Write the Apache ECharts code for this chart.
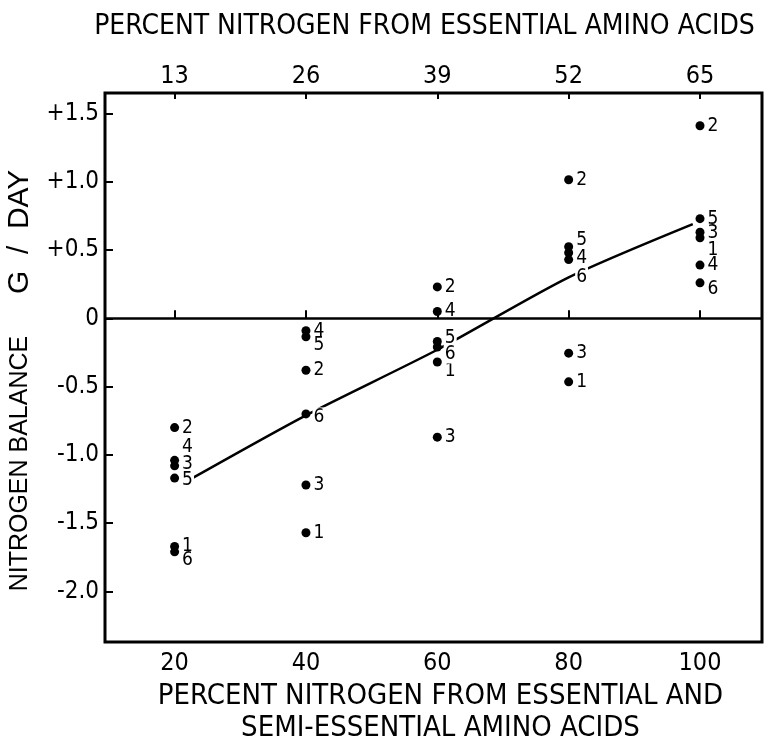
<!DOCTYPE html>
<html>
<head>
<meta charset="utf-8">
<script src="https://cdn.jsdelivr.net/npm/echarts@6/dist/echarts.min.js"></script>
<style>
html,body{margin:0;padding:0;background:#fff;}
#chart{width:771px;height:742px;}
</style>
</head>
<body>
<div id="chart"></div>
<script>
// ---- data ----
const xValues = [20, 40, 60, 80, 100];            // % N from essential + semi-essential AA
const topTickLabels = ['13', '26', '39', '52', '65']; // % N from essential AA
const yTicks = [-2.0, -1.5, -1.0, -0.5, 0, 0.5, 1.0, 1.5];
const subjects = ['1', '2', '3', '4', '5', '6'];
const subject1 = [-1.67, -1.57, -0.32, -0.465, 0.59];
const subject2 = [-0.80, -0.38, 0.23, 1.015, 1.41];
const subject3 = [-1.08, -1.22, -0.87, -0.255, 0.63];
const subject4 = [-1.04, -0.09, 0.05, 0.48, 0.39];
const subject5 = [-1.17, -0.135, -0.17, 0.525, 0.73];
const subject6 = [-1.71, -0.70, -0.21, 0.43, 0.26];
const fitX = [22.7, 40, 60, 80, 98.9];
const fitY = [-1.17, -0.71, -0.23, 0.30, 0.69];

// ---- style only: label vertical nudges (px) and white backing ----
const labelDy = [
  [0, 0, 9, 0, 12],
  [0, 0, 0, 0, 0],
  [-2, 0, 0, 0, 1],
  [-13, 0, 0, 5, 0],
  [2, 8, -3, -7, 0],
  [8, 3, 7, 17, 6]
];
const labelBg = [
  [0,0,0,0,0],[0,0,0,0,0],[0,0,0,0,0],[0,0,0,0,0],[1,0,1,0,0],[0,1,1,1,0]
];

const allSeries = [subject1, subject2, subject3, subject4, subject5, subject6];
const FONT = '"Liberation Sans Narrow", "DejaVu Sans Condensed", "Liberation Sans", sans-serif';
const INK = '#000';
const XMIN = 9.4, XMAX = 109.44, YMIN = -2.37, YMAX = 1.65;

const chart = echarts.init(document.getElementById('chart'), null, {renderer: 'canvas'});

const series = allSeries.map((vals, si) => ({
  type: 'scatter',
  name: 'Subject ' + subjects[si],
  xAxisIndex: 0, yAxisIndex: 0,
  symbol: 'circle',
  symbolSize: 9,
  z: 4,
  itemStyle: {color: INK, opacity: 1},
  label: {
    show: true, position: 'right', distance: 2,
    formatter: subjects[si],
    color: INK, fontFamily: FONT, fontSize: 19
  },
  data: vals.map((v, i) => ({
    value: [xValues[i], v],
    label: {
      offset: [0, labelDy[si][i]],
      backgroundColor: labelBg[si][i] ? '#fff' : 'transparent',
      padding: [0, 1, 0, 1]
    }
  }))
}));

series.push({
  type: 'line',
  name: 'fit',
  data: fitX.map((x, i) => [x, fitY[i]]),
  symbol: 'none',
  smooth: 0.25,
  z: 2,
  lineStyle: {color: INK, width: 2.5},
  markLine: {
    silent: true, symbol: 'none', label: {show: false},
    lineStyle: {color: INK, width: 2.5, type: 'solid'},
    data: [{yAxis: 0}]
  }
});

const option = {
  backgroundColor: '#fff',
  animation: false,
  grid: {left: 105, right: 9, top: 93, bottom: 100, show: true, borderColor: INK, borderWidth: 3,
         containLabel: false, outerBoundsMode: 'none'},
  xAxis: [
    {
      type: 'value', position: 'bottom', min: XMIN, max: XMAX,
      name: 'PERCENT NITROGEN FROM ESSENTIAL AND\nSEMI-ESSENTIAL AMINO ACIDS',
      nameLocation: 'middle', nameGap: 37,
      nameTextStyle: {color: INK, fontFamily: FONT, fontSize: 29, lineHeight: 32, verticalAlign: 'top', padding: [0, 0, 0, 14]},
      axisLine: {show: false},
      axisTick: {show: true, inside: true, length: 8, customValues: xValues, lineStyle: {color: INK, width: 2}},
      axisLabel: {customValues: xValues, color: INK, fontFamily: FONT, fontSize: 25, margin: 9},
      splitLine: {show: false}
    },
    {
      type: 'value', position: 'top', min: XMIN, max: XMAX,
      name: 'PERCENT NITROGEN FROM ESSENTIAL AMINO ACIDS',
      nameLocation: 'middle', nameGap: 52,
      nameTextStyle: {color: INK, fontFamily: FONT, fontSize: 28, padding: [0, 18, 0, 0]},
      axisLine: {show: false},
      axisTick: {show: true, inside: true, length: 6, customValues: xValues, lineStyle: {color: INK, width: 2}},
      axisLabel: {
        customValues: xValues, color: INK, fontFamily: FONT, fontSize: 25, margin: 4,
        formatter: v => topTickLabels[xValues.indexOf(v)]
      },
      splitLine: {show: false}
    }
  ],
  yAxis: [{
    type: 'value', min: YMIN, max: YMAX,
    name: '{a|NITROGEN BALANCE}      {b|G  /  DAY}',
    nameLocation: 'middle', nameGap: 70, nameRotate: 90,
    nameTextStyle: {
      color: INK, fontFamily: '"Liberation Sans", sans-serif', fontSize: 25,
      padding: [0, 26, 0, 0],
      rich: {
        a: {color: INK, fontFamily: '"Liberation Sans", sans-serif', fontSize: 25},
        b: {color: INK, fontFamily: '"Liberation Sans", sans-serif', fontSize: 30}
      }
    },
    axisLine: {show: false},
    axisTick: {show: true, inside: true, length: 8, customValues: yTicks, lineStyle: {color: INK, width: 2}},
    axisLabel: {
      customValues: yTicks, color: INK, fontFamily: FONT, fontSize: 24, margin: 6,
      formatter: v => v === 0 ? '0' : (v > 0 ? '+' + v.toFixed(1) : '-' + Math.abs(v).toFixed(1))
    },
    splitLine: {show: false}
  }],
  series: series
};
chart.setOption(option);
</script>
</body>
</html>
